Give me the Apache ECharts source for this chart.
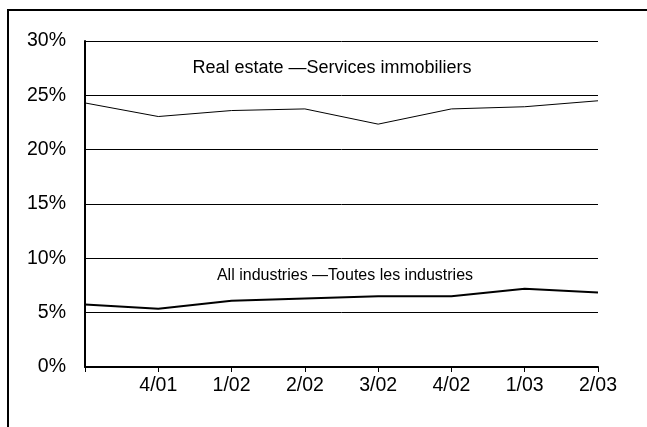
<!DOCTYPE html>
<html>
<head>
<meta charset="utf-8">
<script src="https://cdn.jsdelivr.net/npm/echarts@6/dist/echarts.min.js"></script>
<style>
html,body{margin:0;padding:0;background:#fff;}
#chart{width:647px;height:427px;}
</style>
</head>
<body>
<div id="chart"></div>
<script>
var categories = ['', '4/01', '1/02', '2/02', '3/02', '4/02', '1/03', '2/03'];
var realEstate = [24.3, 23.05, 23.6, 23.75, 22.35, 23.75, 23.95, 24.5];
var allIndustries = [5.75, 5.35, 6.1, 6.3, 6.5, 6.5, 7.2, 6.85];
var yTicks = [0, 5, 10, 15, 20, 25, 30];

var FONT = '"Liberation Sans", Arial, sans-serif';
var chart = echarts.init(document.getElementById('chart'), null, {renderer: 'canvas'});
chart.setOption({
  animation: false,
  backgroundColor: '#ffffff',
  grid: {left: 85, right: 49, top: 41, bottom: 60, containLabel: false},
  xAxis: {
    type: 'category',
    data: categories,
    boundaryGap: false,
    axisLine: {show: true, lineStyle: {color: '#000', width: 2}},
    axisTick: {show: true, length: 5, lineStyle: {color: '#000', width: 1}},
    axisLabel: {color: '#000', fontFamily: FONT, fontSize: 19.5, margin: 9, interval: 0},
    splitLine: {show: false}
  },
  yAxis: {
    type: 'value',
    min: yTicks[0],
    max: yTicks[yTicks.length - 1],
    interval: 5,
    axisLine: {show: true, lineStyle: {color: '#000', width: 2}},
    axisTick: {show: false},
    axisLabel: {color: '#000', fontFamily: FONT, fontSize: 19.5, margin: 19, formatter: '{value}%'},
    splitLine: {show: true, lineStyle: {color: '#000', width: 1}}
  },
  graphic: [
    {type: 'polyline', shape: {points: [[8, 430], [8, 10], [650, 10]]},
     style: {fill: null, stroke: '#000', lineWidth: 2}, silent: true},
    {type: 'text', x: 332, y: 68,
     style: {text: 'Real estate \u2014Services immobiliers', fill: '#000', align: 'center', verticalAlign: 'middle',
             font: '18px "Liberation Sans", Arial, sans-serif'}},
    {type: 'text', x: 345, y: 276,
     style: {text: 'All industries \u2014Toutes les industries', fill: '#000', align: 'center', verticalAlign: 'middle',
             font: '16px "Liberation Sans", Arial, sans-serif'}}
  ],
  series: [
    {name: 'Real estate', type: 'line', data: realEstate, showSymbol: false, symbol: 'none',
     lineStyle: {color: '#000', width: 1}},
    {name: 'All industries', type: 'line', data: allIndustries, showSymbol: false, symbol: 'none',
     lineStyle: {color: '#000', width: 2}}
  ]
});
</script>
</body>
</html>
